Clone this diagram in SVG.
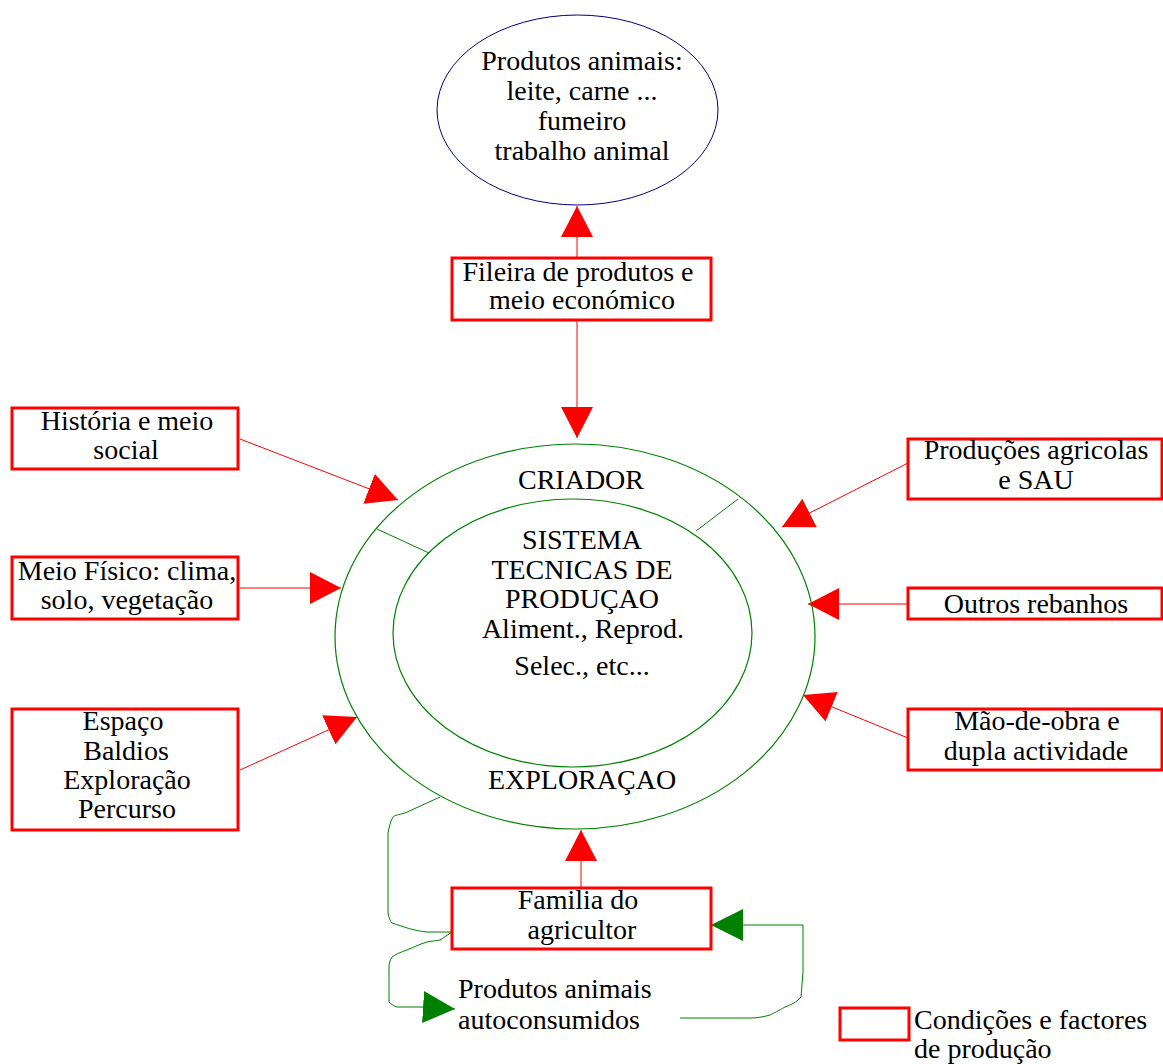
<svg xmlns="http://www.w3.org/2000/svg" width="1163" height="1064" viewBox="0 0 1163 1064">
<style>
text{font-family:"Liberation Serif","Times New Roman",serif;font-size:28px;fill:#000}
.c{text-anchor:middle}
.box{fill:#fff;stroke:#ff0000;stroke-width:3}
.rl{fill:none;stroke:#ff0000;stroke-width:1}
.gl{fill:none;stroke:#008000;stroke-width:1}
.ell{fill:none;stroke:#008000;stroke-width:1.2}
</style>
<defs>
<marker id="ar" markerUnits="userSpaceOnUse" markerWidth="32" markerHeight="32" refX="31" refY="16" orient="auto"><path d="M0,0 L31,16 L0,32 Z" fill="#ff0000"/></marker>
<marker id="ag" markerUnits="userSpaceOnUse" markerWidth="33" markerHeight="32" refX="32" refY="16" orient="auto"><path d="M0,0 L32,16 L0,32 Z" fill="#008000"/></marker>
</defs>
<rect width="1163" height="1064" fill="#fff"/>
<g id="connectors">
<line class="rl" x1="577" y1="258" x2="577" y2="206" marker-end="url(#ar)"/>
<line class="rl" x1="577" y1="320" x2="577" y2="438" marker-end="url(#ar)"/>
<line class="rl" x1="240" y1="439" x2="398" y2="500" marker-end="url(#ar)"/>
<line class="rl" x1="240" y1="588" x2="341" y2="588" marker-end="url(#ar)"/>
<line class="rl" x1="240" y1="770" x2="357" y2="717" marker-end="url(#ar)"/>
<line class="rl" x1="908" y1="463" x2="782" y2="527" marker-end="url(#ar)"/>
<line class="rl" x1="908" y1="604" x2="808" y2="604" marker-end="url(#ar)"/>
<line class="rl" x1="908" y1="738" x2="803" y2="695" marker-end="url(#ar)"/>
<line class="rl" x1="581" y1="888" x2="581" y2="830" marker-end="url(#ar)"/>
<path class="gl" d="M803,925 L803,972 L801,997 C796,1003 790,1005 785,1007 C778,1011 774,1013 770,1015 C763,1017 757,1018 750,1018 L680,1018" />
<path class="gl" d="M803,925 L711,925" marker-end="url(#ag)"/>
<path class="gl" d="M440,797 L405,813 C398,815 395,815 393,817 C390,822 389,828 388,833 L388,913 C389,918 390,921 392,923 C404,927 415,931 427,932 L452,932"/>
<path class="gl" d="M452,932 L440,940 C435,941 431,941 427,942 C420,944 414,947 407,950 C401,952 396,954 392,957 C390,960 389,964 389,967 L389,1002 C391,1004 394,1006 397,1007 L422,1007 L455,1009" marker-end="url(#ag)"/>
<line class="gl" x1="377" y1="529" x2="429" y2="553"/>
<line class="gl" x1="738" y1="499" x2="696" y2="531"/>
</g>
<g id="produtos-animais">
<ellipse cx="577.5" cy="110" rx="140.5" ry="95" fill="none" stroke="#000080" stroke-width="1"/>
<text class="c" x="582" y="70">Produtos animais:</text>
<text class="c" x="582" y="100">leite, carne ...</text>
<text class="c" x="582" y="130">fumeiro</text>
<text class="c" x="582" y="160">trabalho animal</text>
</g>
<g id="fileira">
<rect class="box" x="452" y="258" width="259" height="62"/>
<text class="c" x="578" y="281">Fileira de produtos e</text>
<text class="c" x="582" y="309">meio económico</text>
</g>
<g id="criador">
<ellipse class="ell" cx="575" cy="636.5" rx="240" ry="192.5"/>
<text class="c" x="581" y="489">CRIADOR</text>
<text class="c" x="582" y="789">EXPLORAÇAO</text>
</g>
<g id="sistema">
<ellipse class="ell" cx="572.5" cy="633" rx="179.5" ry="134"/>
<text class="c" x="582" y="549">SISTEMA</text>
<text class="c" x="582" y="579">TECNICAS DE</text>
<text class="c" x="582" y="608">PRODUÇAO</text>
<text class="c" x="583" y="638">Aliment., Reprod.</text>
<text class="c" x="582" y="675">Selec., etc...</text>
</g>
<g id="historia">
<rect class="box" x="12" y="408" width="226" height="61"/>
<text class="c" x="127" y="430">História e meio</text>
<text class="c" x="126" y="459">social</text>
</g>
<g id="meio-fisico">
<rect class="box" x="12" y="557" width="226" height="62"/>
<text class="c" x="127" y="580">Meio Físico: clima,</text>
<text class="c" x="127" y="609">solo, vegetação</text>
</g>
<g id="espaco">
<rect class="box" x="12" y="709" width="226" height="121"/>
<text class="c" x="123" y="730">Espaço</text>
<text class="c" x="126" y="760">Baldios</text>
<text class="c" x="127" y="789">Exploração</text>
<text class="c" x="127" y="818">Percurso</text>
</g>
<g id="producoes">
<rect class="box" x="908" y="439" width="254" height="60"/>
<text class="c" x="1036" y="459">Produções agricolas</text>
<text class="c" x="1036" y="489">e SAU</text>
</g>
<g id="outros-rebanhos">
<rect class="box" x="908" y="588" width="254" height="31"/>
<text class="c" x="1036" y="613">Outros rebanhos</text>
</g>
<g id="mao-de-obra">
<rect class="box" x="908" y="709" width="254" height="61"/>
<text class="c" x="1037" y="730">Mão-de-obra e</text>
<text class="c" x="1036" y="760">dupla actividade</text>
</g>
<g id="familia">
<rect class="box" x="452" y="888" width="259" height="61"/>
<text class="c" x="578" y="909">Familia do</text>
<text class="c" x="582" y="939">agricultor</text>
</g>
<g id="autoconsumidos">
<text x="458" y="998">Produtos animais</text>
<text x="458" y="1029">autoconsumidos</text>
</g>
<g id="legend">
<rect class="box" x="840" y="1008" width="69" height="32"/>
<text x="914" y="1029">Condições e factores</text>
<text x="914" y="1058">de produção</text>
</g>
</svg>
